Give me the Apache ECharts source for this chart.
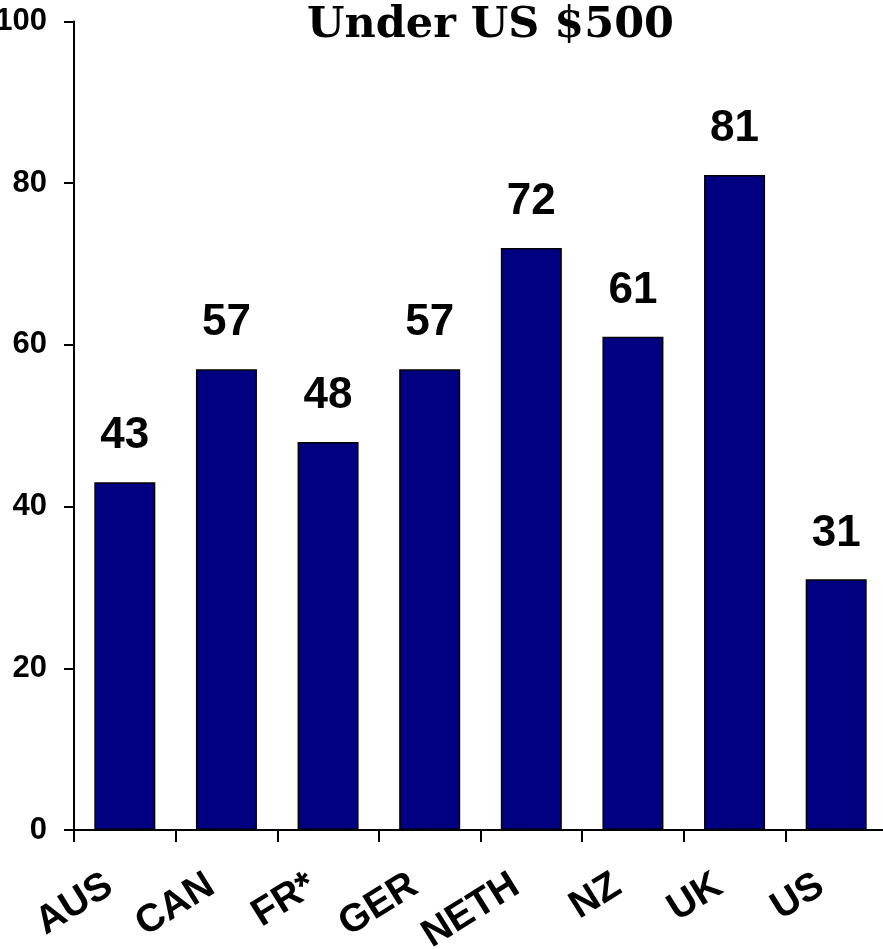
<!DOCTYPE html>
<html>
<head>
<meta charset="utf-8">
<script src="https://cdn.jsdelivr.net/npm/echarts@6/dist/echarts.min.js"></script>
<style>
  html, body { margin: 0; padding: 0; background: #fff; }
  #chart { width: 883px; height: 949px; }
</style>
</head>
<body>
<div id="chart"></div>
<script>
// Share of respondents (%) by country
const countries = ['AUS', 'CAN', 'FR*', 'GER', 'NETH', 'NZ', 'UK', 'US'];
const shares = [43, 57, 48, 57, 72, 61, 81, 31];
const yTicks = { min: 0, max: 100, step: 20 };

const chart = echarts.init(document.getElementById('chart'), null, { renderer: 'canvas' });

chart.setOption({
  animation: false,
  backgroundColor: '#ffffff',
  title: {
    text: 'Under US $500',
    left: 302,
    top: -1,
    textStyle: {
      fontFamily: 'DejaVu Serif',
      fontWeight: 'bold',
      fontSize: 43,
      color: '#000'
    }
  },
  grid: {
    left: 74, right: -4, top: 21.5, bottom: 119,
    containLabel: false,
    outerBoundsMode: 'none'
  },
  xAxis: {
    type: 'category',
    data: countries,
    axisLine: { show: true, lineStyle: { color: '#000', width: 2 } },
    axisTick: { show: true, length: 12, lineStyle: { color: '#000', width: 2 } },
    axisLabel: {
      rotate: 32,
      margin: 43,
      padding: [0, 18, 0, 0],
      fontFamily: 'Liberation Sans',
      fontWeight: 'bold',
      fontSize: 39,
      color: '#000'
    }
  },
  yAxis: {
    type: 'value',
    min: yTicks.min,
    max: yTicks.max,
    interval: yTicks.step,
    splitLine: { show: false },
    axisLine: { show: true, lineStyle: { color: '#000', width: 2 } },
    axisTick: { show: true, length: 10, lineStyle: { color: '#000', width: 2 } },
    axisLabel: {
      margin: 27,
      fontFamily: 'Liberation Sans',
      fontWeight: 'bold',
      fontSize: 31,
      color: '#000'
    }
  },
  series: [{
    type: 'bar',
    data: shares,
    barWidth: 61,
    itemStyle: { color: '#000080', borderColor: '#000', borderWidth: 1.5 },
    label: {
      show: true,
      position: 'top',
      distance: 24,
      fontFamily: 'Liberation Sans',
      fontWeight: 'bold',
      fontSize: 44,
      color: '#000'
    }
  }]
});
</script>
</body>
</html>
